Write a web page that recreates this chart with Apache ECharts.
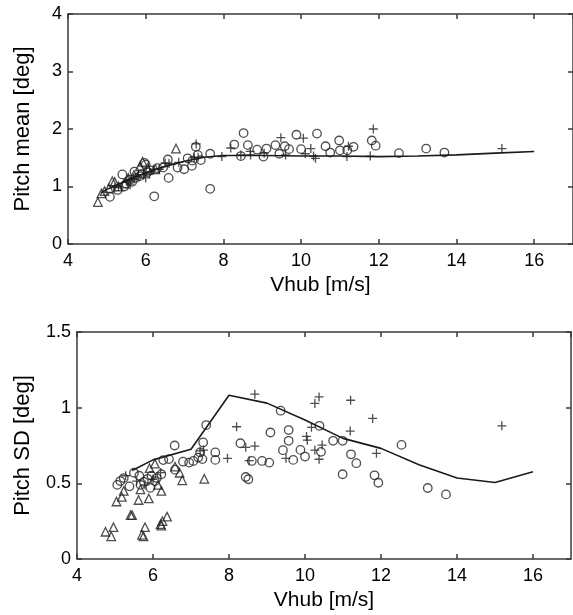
<!DOCTYPE html>
<html>
<head>
<meta charset="utf-8">
<script src="https://cdn.jsdelivr.net/npm/echarts@6/dist/echarts.min.js"></script>
<style>html,body{margin:0;padding:0;background:#fff}#c{width:573px;height:615px}</style>
</head>
<body>
<div id="c"></div>
<script>
// ---- Top panel: Pitch mean ----
const meanCircles = [[5.08,0.82],[5.28,0.94],[5.40,1.21],[5.71,1.26],[5.97,1.41],[6.22,0.83],[6.57,1.47],[6.59,1.15],[6.82,1.33],[6.99,1.30],[7.08,1.49],[7.19,1.36],[7.29,1.69],[7.34,1.55],[7.42,1.46],[7.66,0.96],[7.66,1.57],[8.28,1.73],[8.45,1.53],[8.52,1.93],[8.63,1.72],[8.87,1.64],[9.03,1.52],[9.11,1.66],[9.34,1.72],[9.44,1.57],[9.58,1.70],[9.69,1.65],[9.88,1.90],[10.00,1.65],[10.41,1.92],[10.63,1.70],[10.75,1.59],[10.98,1.80],[11.00,1.63],[11.19,1.63],[11.35,1.69],[11.82,1.80],[11.92,1.71],[12.52,1.58],[13.22,1.66],[13.69,1.59],[5.50,1.05],[5.60,1.12],[5.75,1.15],[5.85,1.18],[5.90,1.22],[6.05,1.25],[6.12,1.28],[6.30,1.32],[5.45,1.00],[5.65,1.08],[6.00,1.38],[6.45,1.33],[7.20,1.45]];
const meanPlus = [[7.30,1.74],[7.35,1.51],[7.96,1.52],[8.19,1.67],[8.69,1.61],[8.45,1.55],[9.48,1.85],[9.60,1.55],[10.06,1.84],[10.25,1.66],[10.11,1.57],[10.32,1.53],[10.37,1.49],[11.22,1.70],[11.18,1.52],[11.86,2.00],[11.78,1.53],[15.17,1.66],[6.50,1.41],[5.30,1.00],[5.55,1.10],[5.70,1.13],[5.80,1.17],[5.95,1.20],[6.10,1.22],[6.20,1.30],[6.35,1.30],[6.60,1.40],[6.85,1.42],[7.25,1.50],[5.20,0.98],[5.60,1.03],[6.00,1.15],[8.70,1.55],[9.05,1.58]];
const meanTri = [[4.77,0.73],[4.86,0.88],[4.94,0.92],[5.05,0.97],[5.14,1.09],[5.20,1.08],[5.30,1.00],[5.45,1.05],[5.55,1.15],[5.70,1.20],[5.85,1.35],[5.92,1.43],[6.05,1.32],[6.25,1.30],[6.78,1.66]];
const meanLine = [[4.85,0.89],[5.0,0.95],[5.5,1.10],[6.0,1.24],[6.5,1.35],[7.0,1.44],[7.5,1.51],[8.0,1.54],[9.0,1.54],[10.0,1.53],[11.0,1.53],[12.0,1.52],[13.0,1.53],[14.0,1.55],[15.0,1.58],[16.0,1.61]];

// ---- Bottom panel: Pitch SD ----
const sdCircles = [[5.06,0.49],[5.14,0.515],[5.23,0.535],[5.38,0.48],[5.50,0.57],[5.64,0.55],[5.76,0.51],[5.86,0.53],[5.96,0.55],[6.05,0.515],[6.10,0.535],[6.22,0.56],[5.67,0.49],[5.93,0.47],[6.27,0.654],[6.42,0.66],[6.57,0.75],[6.58,0.59],[6.79,0.643],[6.95,0.637],[7.06,0.648],[7.19,0.67],[7.24,0.704],[7.32,0.77],[7.30,0.66],[7.40,0.885],[7.64,0.704],[7.64,0.655],[8.30,0.765],[8.44,0.542],[8.51,0.527],[8.60,0.648],[8.87,0.648],[9.06,0.637],[9.09,0.836],[9.36,0.98],[9.42,0.719],[9.57,0.852],[9.57,0.781],[9.69,0.655],[9.88,0.721],[10.00,0.677],[10.38,0.88],[10.42,0.708],[10.74,0.781],[10.99,0.781],[10.99,0.56],[11.21,0.692],[11.35,0.633],[11.83,0.553],[11.93,0.504],[12.54,0.754],[13.23,0.469],[13.71,0.427]];
const sdPlus = [[5.28,0.55],[5.57,0.515],[5.79,0.49],[6.00,0.527],[6.20,0.571],[7.24,0.714],[7.33,0.72],[7.96,0.665],[8.20,0.874],[8.44,0.738],[8.53,0.65],[8.68,1.089],[8.68,0.746],[9.50,0.665],[10.04,0.81],[10.06,0.785],[10.17,0.87],[10.26,1.028],[10.26,0.72],[10.37,1.071],[10.37,0.659],[10.45,0.753],[11.19,0.845],[11.20,1.049],[11.78,0.929],[11.88,0.698],[15.18,0.88]];
const sdTri = [[4.75,0.18],[4.90,0.15],[4.96,0.21],[5.04,0.38],[5.18,0.41],[5.23,0.45],[5.41,0.29],[5.45,0.29],[5.62,0.39],[5.67,0.46],[5.71,0.16],[5.75,0.15],[5.79,0.21],[5.89,0.40],[5.91,0.60],[6.05,0.63],[6.13,0.49],[6.22,0.45],[6.20,0.23],[6.22,0.22],[6.25,0.25],[6.37,0.28],[6.58,0.61],[6.70,0.57],[6.77,0.52],[7.35,0.53]];
const sdLine = [[5.45,0.585],[6.0,0.655],[7.0,0.725],[8.0,1.082],[9.0,1.03],[10.0,0.918],[11.0,0.797],[12.0,0.731],[13.0,0.623],[14.0,0.535],[15.0,0.505],[16.0,0.577]];

const xTicks = {min: 4, max: 17, interval: 2};
const meanTicks = {min: 0, max: 4, interval: 1};
const sdTicks = {min: 0, max: 1.5, interval: 0.5};

const FONT = 'Liberation Sans, Arial, sans-serif';
const AX = '#3a3a3a';
const MK = '#222';
const TXT = '#000';
const plusPath = 'path://M5,0 L5,10 M0,5 L10,5';

function xAx(grid, pos, show) {
  return {
    type: 'value', gridIndex: grid, position: pos,
    min: xTicks.min, max: xTicks.max, interval: xTicks.interval,
    name: show ? 'Vhub [m/s]' : '', nameLocation: 'middle', nameGap: 31,
    nameTextStyle: {fontFamily: FONT, fontSize: 21, color: TXT},
    axisLine: {show: true, onZero: false, lineStyle: {color: AX, width: 1.5}},
    axisTick: {show: true, inside: true, length: 5, lineStyle: {color: AX, width: 1.5}},
    axisLabel: {show: show, showMaxLabel: false, margin: 8, fontFamily: FONT, fontSize: 18, color: TXT},
    splitLine: {show: false}
  };
}
function yAx(grid, pos, t, name, gap) {
  const show = pos === 'left';
  return {
    type: 'value', gridIndex: grid, position: pos,
    min: t.min, max: t.max, interval: t.interval,
    name: show ? name : '', nameLocation: 'middle', nameGap: gap,
    nameTextStyle: {fontFamily: FONT, fontSize: 22, color: TXT},
    axisLine: {show: true, onZero: false, lineStyle: {color: AX, width: 1.5}},
    axisTick: {show: true, inside: true, length: 5, lineStyle: {color: AX, width: 1.5}},
    axisLabel: {show: show, margin: 6, fontFamily: FONT, fontSize: 18, color: TXT},
    splitLine: {show: false}
  };
}
function scat(data, sym, size, xi, yi) {
  return {
    type: 'scatter', data: data, xAxisIndex: xi, yAxisIndex: yi,
    symbol: sym, symbolSize: size, silent: true,
    itemStyle: {color: 'rgba(0,0,0,0)', borderColor: MK, borderWidth: 1.3}
  };
}
function line(data, xi, yi) {
  return {
    type: 'line', data: data, xAxisIndex: xi, yAxisIndex: yi,
    showSymbol: false, symbol: 'none', silent: true,
    lineStyle: {color: '#1a1a1a', width: 1.6}
  };
}

const chart = echarts.init(document.getElementById('c'), null, {renderer: 'canvas'});
chart.setOption({
  animation: false,
  backgroundColor: '#fff',
  grid: [
    {left: 68, top: 14, width: 507, height: 230},
    {left: 77, top: 332, width: 494, height: 227}
  ],
  xAxis: [xAx(0, 'bottom', true), xAx(0, 'top', false), xAx(1, 'bottom', true), xAx(1, 'top', false)],
  yAxis: [yAx(0, 'left', meanTicks, 'Pitch mean [deg]', 34), yAx(0, 'right', meanTicks, '', 0),
          yAx(1, 'left', sdTicks, 'Pitch SD [deg]', 43), yAx(1, 'right', sdTicks, '', 0)],
  series: [
    line(meanLine, 0, 0),
    scat(meanCircles, 'circle', 8.5, 0, 0),
    scat(meanPlus, plusPath, 9, 0, 0),
    scat(meanTri, 'triangle', 8.5, 0, 0),
    line(sdLine, 2, 2),
    scat(sdCircles, 'circle', 8.5, 2, 2),
    scat(sdPlus, plusPath, 9, 2, 2),
    scat(sdTri, 'triangle', 8.5, 2, 2)
  ]
});
</script>
</body>
</html>
